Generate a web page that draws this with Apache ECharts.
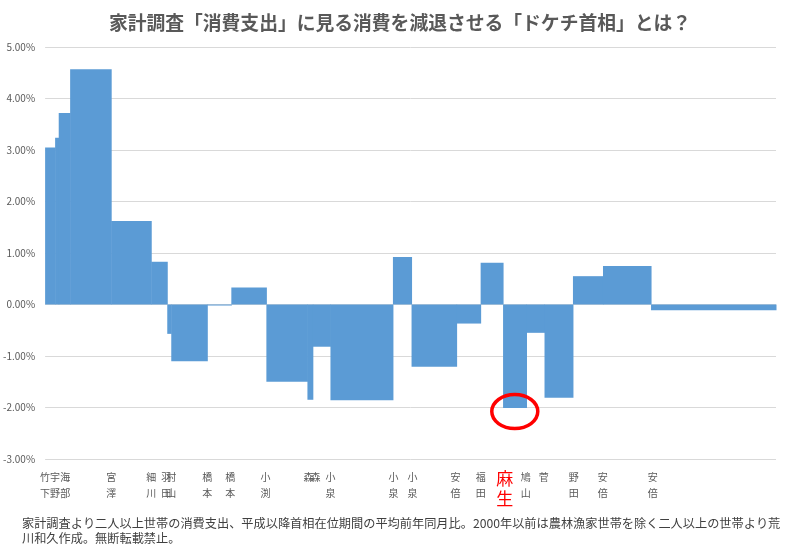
<!DOCTYPE html>
<html>
<head>
<meta charset="utf-8">
<script src="https://cdn.jsdelivr.net/npm/echarts@6/dist/echarts.min.js"></script>
<style>
html,body{margin:0;padding:0;background:#fff;}
#chart{width:800px;height:548px;}
</style>
</head>
<body>
<div id="chart"></div>
<script>
// Segment edges along the (tenure) axis
const segmentEdges = [0, 5, 6.8, 12.5, 33, 53, 61, 63, 81, 93, 110.5, 131, 133.7, 142.5, 173.7, 183, 205.5, 217.5, 228.7, 240.4, 249.4, 263.6, 278.6, 302.6, 365];
// Average YoY change of consumption expenditure (%) for each segment
const segmentValues = [3.05, 3.24, 3.72, 4.57, 1.62, 0.83, -0.57, -1.10, -0.02, 0.33, -1.50, -1.85, -0.82, -1.86, 0.92, -1.21, -0.37, 0.81, -2.01, -0.55, -1.81, 0.55, 0.75, -0.11];
// Prime minister labels and their positions on the axis
const pmNames = ['竹下','宇野','海部','宮澤','細川','羽田','村山','橋本','橋本','小渕','森','森','小泉','小泉','小泉','安倍','福田','麻生','鳩山','菅','野田','安倍','安倍'];
const pmPositions = [0, 5, 10, 33, 53, 60.5, 63, 81, 92.5, 110, 131.5, 135, 142.5, 174, 183.5, 205, 217.5, 229.5, 240, 249, 264, 278.5, 303.5];
const highlightName = '麻生';
const highlightSegment = 18;
// Y axis ticks (%)
const yMin = -3, yMax = 5, yStep = 1;

const titleText = '家計調査「消費支出」に見る消費を減退させる「ドケチ首相」とは？';
const noteText = '家計調査より二人以上世帯の消費支出、平成以降首相在位期間の平均前年同月比。2000年以前は農林漁家世帯を除く二人以上の世帯より荒\n川和久作成。無断転載禁止。';

const FONT = '"Noto Sans CJK JP", "Noto Sans", sans-serif';
const segData = segmentValues.map((v, i) => [segmentEdges[i], segmentEdges[i + 1], v]);
const labelMap = {};
pmPositions.forEach((p, i) => { labelMap[p] = pmNames[i]; });

const chart = echarts.init(document.getElementById('chart'), null, {renderer: 'canvas'});
chart.setOption({
  animation: false,
  backgroundColor: '#ffffff',
  title: [{
    text: titleText,
    left: 'center',
    top: 8,
    textStyle: {fontFamily: FONT, fontSize: 18.8, fontWeight: 'bold', color: '#595959'}
  }, {
    text: noteText,
    left: 17,
    top: 511,
    textStyle: {fontFamily: FONT, fontSize: 12.2, fontWeight: 'normal', color: '#404040', lineHeight: 15}
  }],
  grid: {left: 45, right: 24, top: 47, bottom: 89, containLabel: false},
  xAxis: {
    type: 'value',
    min: segmentEdges[0],
    max: segmentEdges[segmentEdges.length - 1],
    axisLine: {show: false},
    axisTick: {show: false},
    splitLine: {show: false},
    axisLabel: {
      customValues: pmPositions,
      showMinLabel: true,
      showMaxLabel: true,
      hideOverlap: false,
      margin: 10,
      fontFamily: FONT,
      fontSize: 10,
      lineHeight: 16,
      color: '#595959',
      formatter: function (v) {
        const n = labelMap[v] || '';
        const t = n.split('').join('\n');
        if (n === highlightName) return '{hl|' + t + '}';
        return t;
      },
      rich: {
        hl: {fontFamily: FONT, fontSize: 17, lineHeight: 20, color: '#ff0000'}
      }
    }
  },
  yAxis: {
    type: 'value',
    min: yMin,
    max: yMax,
    interval: yStep,
    axisLine: {show: false},
    axisTick: {show: false},
    splitLine: {lineStyle: {color: '#d9d9d9', width: 1}},
    axisLabel: {
      margin: 10,
      fontFamily: FONT,
      fontSize: 10,
      color: '#595959',
      formatter: v => v.toFixed(2) + '%'
    }
  },
  series: [{
    type: 'custom',
    data: segData,
    encode: {x: [0, 1], y: 2},
    renderItem: function (params, api) {
      const a = api.coord([api.value(0), 0]);
      const b = api.coord([api.value(1), api.value(2)]);
      const y0 = Math.min(a[1], b[1]);
      const h = Math.max(Math.abs(b[1] - a[1]), 1);
      return {
        type: 'rect',
        shape: {x: a[0], y: y0, width: b[0] - a[0] + 0.5, height: h},
        style: {fill: '#5b9bd5'}
      };
    }
  }]
});

// Red ellipse around the highlighted (deepest) segment
const hs = segData[highlightSegment];
const p = chart.convertToPixel({gridIndex: 0}, [(hs[0] + hs[1]) / 2, hs[2]]);
chart.setOption({
  graphic: [{
    type: 'ellipse',
    shape: {cx: p[0], cy: p[1] + 3.5, rx: 23, ry: 17},
    style: {fill: 'none', stroke: '#ff0000', lineWidth: 3.5},
    z: 100
  }]
});
</script>
</body>
</html>
